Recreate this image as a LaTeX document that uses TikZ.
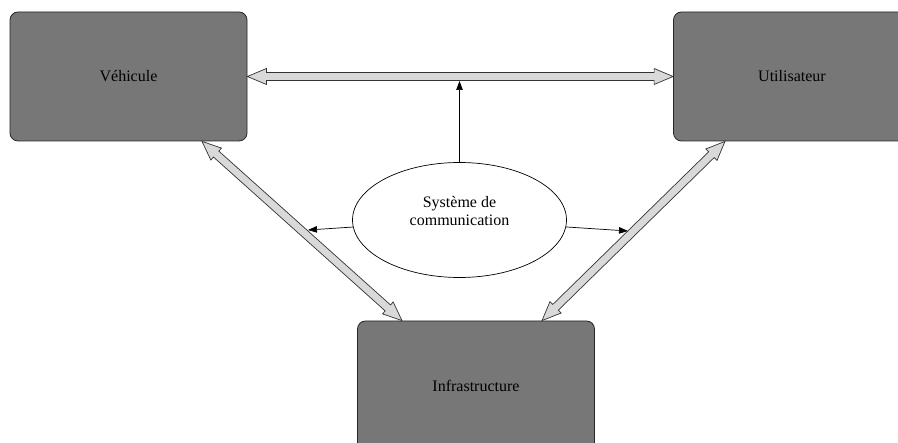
\documentclass[tikz,border=0pt]{standalone}
\usepackage{fontspec}
\setmainfont{Liberation Serif}
\usetikzlibrary{shapes.geometric, calc, arrows.meta}
\definecolor{boxgray}{HTML}{777777}
\definecolor{arrowgray}{HTML}{D9D9D9}
\tikzset{
        bloc/.style={draw=black!85, fill=boxgray, rounded corners=8pt, line width=0.8pt,
                minimum width=237pt, minimum height=129pt, font=\fontsize{16pt}{18pt}\selectfont},
        bulle/.style={ellipse, draw, fill=white, line width=0.7pt, inner sep=0pt,
                minimum width=214pt, minimum height=115pt},
        texte/.style={align=center, inner sep=0pt, font=\fontsize{16pt}{17.5pt}\selectfont},
        lien/.style={-{Triangle[length=9pt,width=6.5pt]}, line width=0.7pt},
        large/.style={fill=arrowgray, draw=black!80, line width=0.7pt, line join=miter}
}

\begin{document}
\begin{tikzpicture}[x=1pt, y=-1pt]
        \useasboundingbox (0,0) rectangle (898,443);
        \node[bloc] (veh) at (128.5,76.5) {Véhicule};
        \node[bloc] (usr) at (792,76.5) {Utilisateur};
        \node[bloc, minimum height=130pt] (inf) at (476,386) {Infrastructure};
        \node[bulle] (sys) at (459.5,220) {};
        \node[texte] (sys-txt) at ([yshift=9pt]sys.center) {Système de\\communication};
        \coordinate (veh-bas) at ([xshift=73.5pt]veh.south);
        \coordinate (usr-bas) at ([xshift=-67pt]usr.south);
        \coordinate (inf-g) at ([xshift=-74pt]inf.north);
        \coordinate (inf-d) at ([xshift=66pt]inf.north);
        \coordinate (haut) at (459.5,81);
        \coordinate (gauche) at (308,230);
        \coordinate (droite) at (628,231);
        \foreach \a/\b in {veh.east/usr.west, veh-bas/inf-g, usr-bas/inf-d} {
                \filldraw[large] (\a) -- ($(\a)!19pt!(\b)!8pt!90:(\b)$) -- ($(\a)!19pt!(\b)!4pt!90:(\b)$)
                        -- ($(\b)!19pt!(\a)!4pt!-90:(\a)$) -- ($(\b)!19pt!(\a)!8pt!-90:(\a)$) -- (\b)
                        -- ($(\b)!19pt!(\a)!8pt!90:(\a)$) -- ($(\b)!19pt!(\a)!4pt!90:(\a)$)
                        -- ($(\a)!19pt!(\b)!4pt!-90:(\b)$) -- ($(\a)!19pt!(\b)!8pt!-90:(\b)$) -- cycle;
        }
        \foreach \c in {haut, gauche, droite} {
                \draw[lien] (sys) -- (\c);
        }
\end{tikzpicture}
\end{document}
